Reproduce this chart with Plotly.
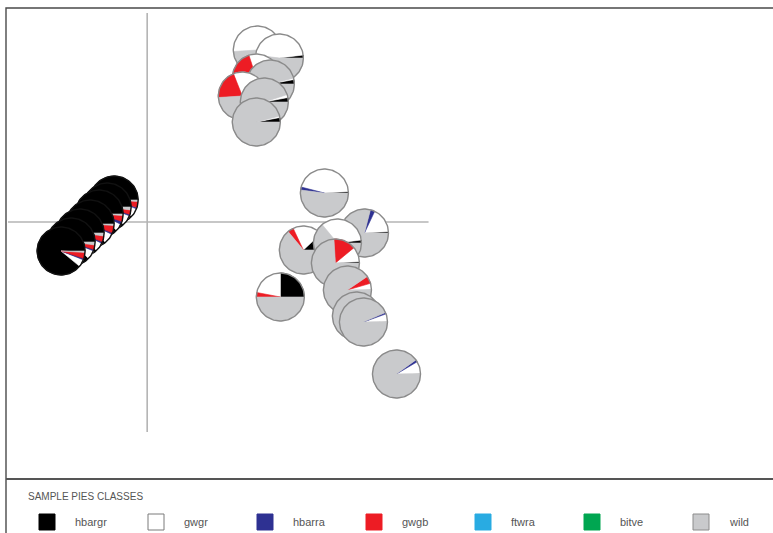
import numpy as np
import plotly.graph_objects as go

# ---------------- data (PCA-like coordinates of sample pies) ----------------
classes = ["hbargr", "gwgr", "hbarra", "gwgb", "ftwra", "bitve", "wild"]
class_colors = ["#000000", "#ffffff", "#2e3192", "#ed1c24", "#29abe2", "#00a651", "#c9cacc"]
class_edge = ["#000000", "#7a7a7a", "#2e3192", "#ed1c24", "#29abe2", "#00a651", "#8c8c8c"]

pc1 = [-0.33, -0.40, -0.48, -0.57, -0.67, -0.76, -0.86,
       1.10, 1.32, 1.09, 1.23, 0.95, 1.17, 1.09,
       1.77, 2.17, 1.56, 1.90, 1.88, 1.33, 2.00, 2.09, 2.16, 2.49]
pc2 = [0.22, 0.15, 0.08, -0.02, -0.11, -0.20, -0.29,
       1.72, 1.64, 1.44, 1.38, 1.26, 1.20, 1.00,
       0.29, -0.11, -0.28, -0.21, -0.41, -0.75, -0.68, -0.94, -1.00, -1.52]

hbargr = [0.88, 0.87, 0.88, 0.86, 0.87, 0.88, 0.89,
          0.01, 0.02, 0.02, 0.03, 0.01, 0.03, 0.03,
          0.01, 0.01, 0.12, 0.02, 0.01, 0.25, 0.005, 0.01, 0.005, 0.005]
gwgr = [0.06, 0.07, 0.05, 0.07, 0.06, 0.06, 0.05,
        0.50, 0.46, 0.28, 0.01, 0.30, 0.02, 0.01,
        0.45, 0.17, 0.20, 0.34, 0.10, 0.22, 0.04, 0.03, 0.05, 0.08]
hbarra = [0.01, 0.01, 0.02, 0.01, 0.01, 0.01, 0.01,
          0, 0, 0, 0, 0, 0, 0,
          0.02, 0.03, 0, 0, 0, 0, 0, 0, 0.01, 0.015]
gwgb = [0.04, 0.03, 0.04, 0.05, 0.04, 0.03, 0.04,
        0, 0, 0.22, 0, 0.20, 0, 0,
        0, 0, 0.04, 0, 0.15, 0.03, 0.05, 0, 0, 0]
ftwra = [0] * 24
bitve = [0] * 24
wild = [0.01, 0.02, 0.01, 0.01, 0.02, 0.02, 0.01,
        0.49, 0.52, 0.48, 0.96, 0.49, 0.95, 0.96,
        0.52, 0.79, 0.64, 0.64, 0.74, 0.50, 0.905, 0.96, 0.935, 0.90]

pie_radius = 0.24
legend_title = "SAMPLE PIES CLASSES"

# reference cross lines (extent in data units)
hline_x = [-1.39, 2.81]
vline_y = [-2.10, 2.09]

# ---------------- figure ----------------
W, H = 773, 533
frame_left, frame_top, frame_sep = 6, 8, 479
x_range = [-1.41, 6.25]
y_range = [-2.57, 2.14]

fig = go.Figure()

shares = [hbargr, gwgr, hbarra, gwgb, ftwra, bitve, wild]
for i in range(len(pc1)):
    cx, cy = pc1[i], pc2[i]
    vals = np.array([s[i] for s in shares], dtype=float)
    vals = vals / vals.sum()
    start = 0.0
    for k, f in enumerate(vals):
        if f <= 0:
            continue
        end = start + f * 2 * np.pi
        n = max(3, int(f * 160))
        th = np.linspace(start, end, n)
        xs = np.concatenate([[cx], cx + pie_radius * np.cos(th), [cx]])
        ys = np.concatenate([[cy], cy + pie_radius * np.sin(th), [cy]])
        fig.add_trace(go.Scatter(x=xs, y=ys, mode="lines", fill="toself",
                                 fillcolor=class_colors[k],
                                 line=dict(color=class_colors[k], width=0.6),
                                 hoverinfo="skip", showlegend=False))
        start = end
    th = np.linspace(0, 2 * np.pi, 120)
    edge = "#111111" if vals[0] > 0.5 else "#8a8a8a"
    fig.add_trace(go.Scatter(x=cx + pie_radius * np.cos(th), y=cy + pie_radius * np.sin(th),
                             mode="lines", line=dict(color=edge, width=1.4),
                             hoverinfo="skip", showlegend=False))

shapes = [
    dict(type="line", xref="x", yref="y", x0=hline_x[0], x1=hline_x[1], y0=0, y1=0,
         line=dict(color="#b4b4b4", width=1.6), layer="below"),
    dict(type="line", xref="x", yref="y", x0=0, x1=0, y0=vline_y[0], y1=vline_y[1],
         line=dict(color="#b4b4b4", width=1.6), layer="below"),
    dict(type="rect", xref="paper", yref="paper", x0=frame_left / W, x1=1.02,
         y0=-0.05, y1=1 - frame_top / H, line=dict(color="#4a4a4a", width=1.4)),
    dict(type="line", xref="paper", yref="paper", x0=frame_left / W, x1=1.02,
         y0=1 - frame_sep / H, y1=1 - frame_sep / H, line=dict(color="#555555", width=2)),
]

annotations = [dict(text=legend_title, xref="paper", yref="paper", x=26 / W, y=1 - 496 / H,
                    xanchor="left", yanchor="middle", showarrow=False,
                    font=dict(size=10, color="#555555"))]

# legend key (manual, one entry per class)
key_x0, key_step, key_size, key_yc = 39, 109, 16, 522
for k, name in enumerate(classes):
    x0 = key_x0 + k * key_step
    shapes.append(dict(type="rect", xref="paper", yref="paper",
                       x0=x0 / W, x1=(x0 + key_size) / W,
                       y0=1 - (key_yc + key_size / 2) / H, y1=1 - (key_yc - key_size / 2) / H,
                       fillcolor=class_colors[k], line=dict(color=class_edge[k], width=1)))
    annotations.append(dict(text=name, xref="paper", yref="paper", x=(x0 + 34) / W,
                            y=1 - key_yc / H, xanchor="left", yanchor="middle",
                            showarrow=False, font=dict(size=11, color="#555555")))

fig.update_layout(
    width=W, height=H,
    margin=dict(l=0, r=0, t=0, b=0),
    paper_bgcolor="white", plot_bgcolor="white",
    font=dict(family="Liberation Sans Narrow, Liberation Sans, Arial", color="#555555"),
    xaxis=dict(range=x_range, domain=[frame_left / W, 1], visible=False, fixedrange=True),
    yaxis=dict(range=y_range, domain=[1 - frame_sep / H, 1 - frame_top / H], visible=False,
               fixedrange=True),
    shapes=shapes,
    annotations=annotations,
    showlegend=False,
)

fig.write_html("out.html", config={"displayModeBar": False},
               post_script="document.body.style.margin='0';document.body.style.overflow='hidden';")
